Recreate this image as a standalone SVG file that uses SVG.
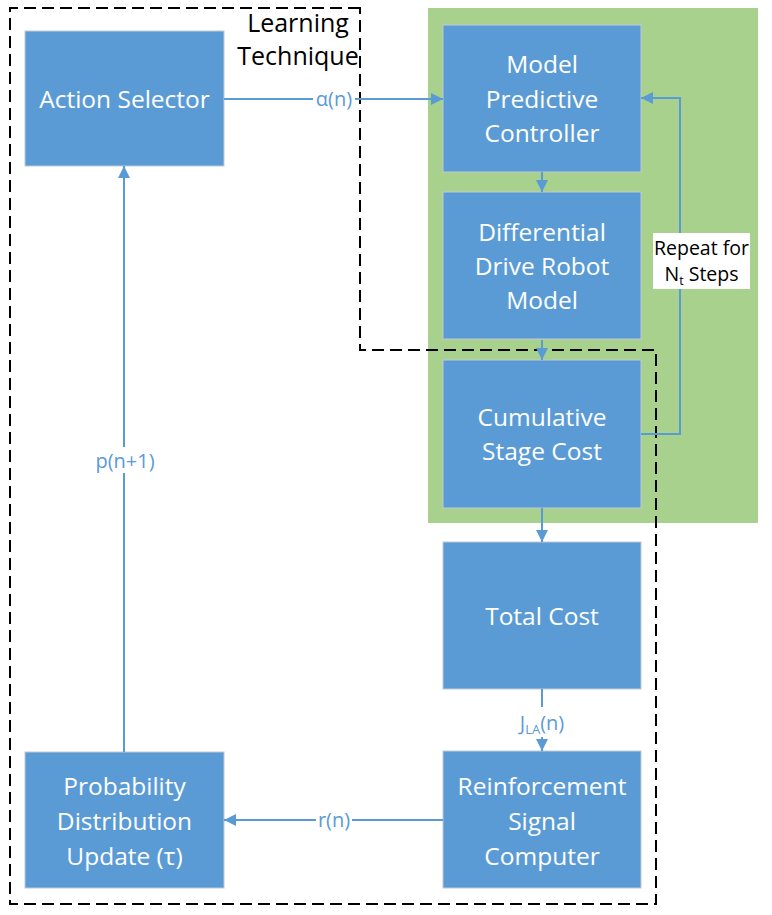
<svg xmlns="http://www.w3.org/2000/svg" width="772" height="915" viewBox="0 0 772 915">
<defs>
<style>
.box{fill:#5B9BD5;stroke:#BFC9D4;stroke-width:1}
.bt{font-family:"Open Sans","Noto Sans",sans-serif;font-size:24.5px;fill:#fff;text-anchor:middle}
.lbl{font-family:"Open Sans","Noto Sans",sans-serif;font-size:20px;fill:#5B9BD5;text-anchor:middle}
.lt{font-family:"Open Sans","Noto Sans",sans-serif;font-size:25px;fill:#000;text-anchor:middle}
.rp{font-family:"Open Sans","Noto Sans",sans-serif;font-size:19.5px;fill:#000;text-anchor:middle}
.ln{fill:none;stroke:#5B9BD5;stroke-width:2}
</style>
<marker id="a" viewBox="0 0 12 12" refX="12" refY="6" markerWidth="12" markerHeight="12" orient="auto" markerUnits="userSpaceOnUse">
<path d="M0,0 L12,6 L0,12 z" fill="#5B9BD5"/>
</marker>
</defs>
<rect width="772" height="915" fill="#fff"/>
<g id="loop-region">
<rect x="428" y="8" width="330" height="515" fill="#A9D18E"/>
</g>
<g id="nodes">
<g id="action-selector"><rect class="box" x="25" y="31" width="199" height="135"/><text class="bt" x="124.5" y="108">Action Selector</text></g>
<g id="mpc"><rect class="box" x="443" y="25" width="198" height="147"/><text class="bt" x="542" y="73">Model</text><text class="bt" x="542" y="108">Predictive</text><text class="bt" x="542" y="142">Controller</text></g>
<g id="ddrm"><rect class="box" x="443" y="192" width="198" height="147"/><text class="bt" x="542" y="241">Differential</text><text class="bt" x="542" y="275">Drive Robot</text><text class="bt" x="542" y="309">Model</text></g>
<g id="csc"><rect class="box" x="443" y="360" width="198" height="148"/><text class="bt" x="542" y="426">Cumulative</text><text class="bt" x="542" y="460">Stage Cost</text></g>
<g id="total"><rect class="box" x="443" y="542" width="198" height="147"/><text class="bt" x="542" y="625">Total Cost</text></g>
<g id="rsc"><rect class="box" x="443" y="751" width="198" height="137"/><text class="bt" x="542" y="795">Reinforcement</text><text class="bt" x="542" y="830">Signal</text><text class="bt" x="542" y="865">Computer</text></g>
<g id="pdu"><rect class="box" x="25" y="752" width="199" height="136"/><text class="bt" x="124.5" y="795">Probability</text><text class="bt" x="124.5" y="830">Distribution</text><text class="bt" x="124.5" y="865">Update (τ)</text></g>
</g>
<g id="learning-technique">
<path d="M360,8 H10 V904 H656 V350 H360 Z" fill="none" stroke="#000" stroke-width="2" stroke-dasharray="12,6"/>
<text class="lt" x="298" y="32">Learning</text>
<text class="lt" x="298" y="65">Technique</text>
</g>
<g id="connectors">
<path class="ln" d="M224,99 H443" marker-end="url(#a)"/>
<path class="ln" d="M542,172 V192" marker-end="url(#a)"/>
<path class="ln" d="M542,340 V360" marker-end="url(#a)"/>
<path class="ln" d="M542,508 V542" marker-end="url(#a)"/>
<path class="ln" d="M542,689 V751" marker-end="url(#a)"/>
<path class="ln" d="M443,820 H224" marker-end="url(#a)"/>
<path class="ln" d="M124,752 V166" marker-end="url(#a)"/>
<path class="ln" d="M641,434 H680 V98 H641" marker-end="url(#a)"/>
<rect x="313" y="86" width="42" height="26" fill="#fff"/>
<text class="lbl" x="334" y="106">α(n)</text>
<rect x="510" y="707" width="64" height="30" fill="#fff"/>
<text class="lbl" x="542" y="730">J<tspan font-size="13" dy="4">LA</tspan><tspan dy="-4">(n)</tspan></text>
<rect x="316" y="808" width="36" height="26" fill="#fff"/>
<text class="lbl" x="334" y="827">r(n)</text>
<rect x="90" y="447" width="70" height="26" fill="#fff"/>
<text class="lbl" x="125" y="468">p(n+1)</text>
<rect x="653" y="233" width="97" height="56" fill="#fff"/>
<text class="rp" x="701.5" y="255">Repeat for</text>
<text class="rp" x="701.5" y="281">N<tspan font-size="12.5" dy="4">t</tspan><tspan dy="-4"> Steps</tspan></text>
</g>
</svg>
